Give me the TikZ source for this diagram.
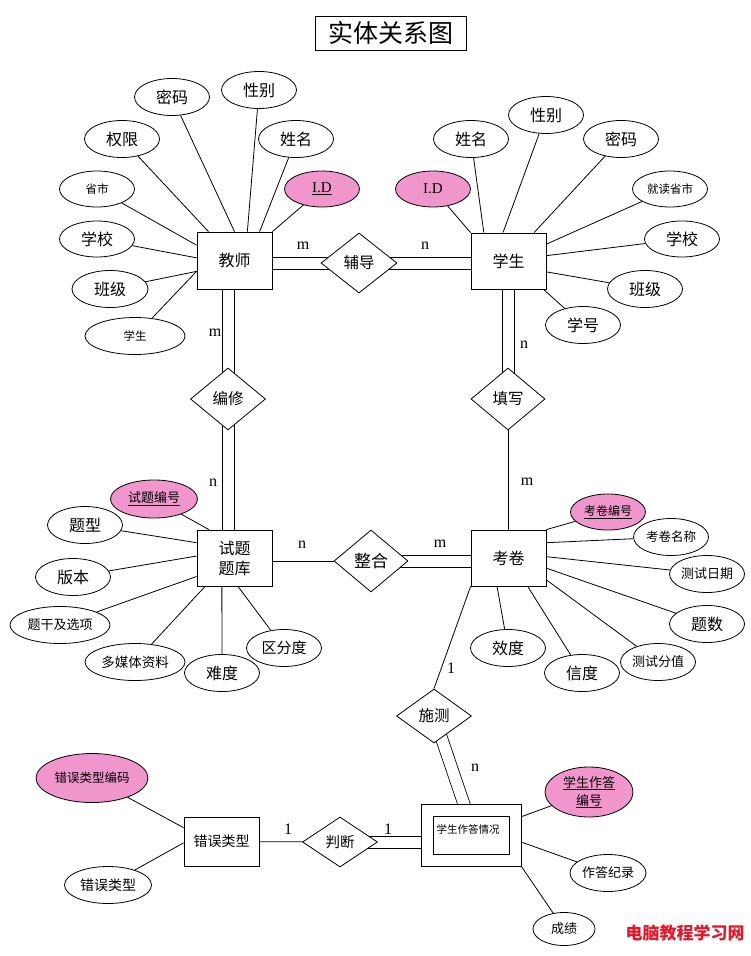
\documentclass[tikz,border=0pt]{standalone}
\usepackage{fontspec}
\setmainfont{Noto Sans CJK SC}
\newfontfamily\lat{Liberation Serif}
\usepackage{tikz}
\usetikzlibrary{shapes.geometric,backgrounds}
\definecolor{keypink}{RGB}{240,150,205}
\definecolor{markred}{RGB}{225,25,45}
\tikzset{conn/.style={line width=0.8pt}}
\tikzset{dbl/.style={conn,double,double distance=11.2pt}}
\newcommand\ersize[1]{\fontsize{#1}{#1}\selectfont}

\begin{document}
\begin{tikzpicture}[x=1pt,y=-1pt,
    entity/.style={rectangle,draw,fill=white,line width=0.8pt,inner sep=0pt,
      minimum width=75,minimum height=56,align=center,font=\fontsize{16}{20}\selectfont},
    attr/.style={ellipse,draw,fill=white,line width=0.8pt,inner sep=0pt,
      minimum width=75,minimum height=37,align=center,font=\ersize{16}},
    keyattr/.style={attr,fill=keypink},
    rel/.style={diamond,draw,fill=white,line width=0.8pt,inner sep=0pt,
      minimum width=75,minimum height=62,font=\ersize{15.5}},
    card/.style={inner sep=0pt,font=\lat\ersize{16}}]
  \useasboundingbox (0,0) rectangle (750,956);

  % title
  \node[entity,minimum width=151,minimum height=34,font=\ersize{25}] (title) at (390.5,33) {实体关系图};

  % entities
  \node[entity,minimum height=57] (teacher) at (234.5,260.5) {教师};
  \node[entity] (student) at (508.5,261) {学生};
  \node[entity] (tiku) at (234.5,558) {试题\\题库};
  \node[entity] (kaojuan) at (508.5,558) {考卷};
  \node[entity,minimum height=49,font=\ersize{14}] (cuowu) at (221.5,841.5) {错误类型};
  \node[entity,minimum width=100,minimum height=62] (answer) at (471,835) {};
  \node[draw,line width=0.8pt,minimum width=76,minimum height=38,inner sep=0pt] (answerin) at (471,835) {};
  \node[inner sep=0pt,font=\ersize{10.5}] (answertxt) at (468,829) {学生作答情况};

  % relationships
  \node[rel,minimum width=76,minimum height=60] (fudao) at (359,263) {辅导};
  \node[rel] (bianxiu) at (228,399) {编修};
  \node[rel,minimum width=74] (tianxie) at (508,399) {填写};
  \node[rel,minimum width=74,font=\ersize{17}] (zhenghe) at (371,561) {整合};
  \node[rel,minimum height=54] (shice) at (434,716) {施测};
  \node[rel,minimum height=50,font=\ersize{14.5}] (panduan) at (340,842) {判断};

  % teacher attributes
  \node[attr] (t_mima) at (172,97) {密码};
  \node[attr] (t_xingbie) at (259,90) {性别};
  \node[attr] (t_xingming) at (296,139) {姓名};
  \node[keyattr,minimum height=36,font=\lat\ersize{15}] (t_id) at (322,189) {\underline{I.D}};
  \node[attr] (t_quanxian) at (122,139) {权限};
  \node[attr,minimum height=36,font=\ersize{11.5}] (t_shengshi) at (97,189) {省市};
  \node[attr,minimum height=36] (t_xuexiao) at (97,239) {学校};
  \node[attr,minimum width=76] (t_banji) at (110,289) {班级};
  \node[attr,minimum width=100,font=\ersize{11.5}] (t_xuesheng) at (135,336) {学生};

  % student attributes
  \node[keyattr,minimum height=36,font=\lat\ersize{15}] (s_id) at (433,189) {I.D};
  \node[attr] (s_xingming) at (471,139) {姓名};
  \node[attr] (s_xingbie) at (546,115) {性别};
  \node[attr] (s_mima) at (621,139) {密码};
  \node[attr,minimum height=36,font=\ersize{11.5}] (s_jiudu) at (670,189) {就读省市};
  \node[attr,minimum height=36] (s_xuexiao) at (682,239) {学校};
  \node[attr] (s_banji) at (645,289) {班级};
  \node[attr] (s_xuehao) at (583,325) {学号};

  % question bank attributes
  \node[keyattr,minimum width=87,minimum height=38,font=\ersize{13}] (k_bianhao) at (154,499) {\underline{试题编号}};
  \node[attr] (k_tixing) at (85,525) {题型};
  \node[attr] (k_banben) at (73,577) {版本};
  \node[attr,minimum width=100,font=\ersize{13}] (k_tigan) at (60,625) {题干及选项};
  \node[attr,minimum width=100,font=\ersize{13.5}] (k_duomeiti) at (135,662) {多媒体资料};
  \node[attr] (k_nandu) at (222,673) {难度};
  \node[attr,font=\ersize{15}] (k_qufen) at (284,648) {区分度};

  % paper attributes
  \node[keyattr,minimum height=36,font=\ersize{12}] (j_bianhao) at (608,512) {\underline{考卷编号}};
  \node[attr,font=\ersize{12.5}] (j_mingcheng) at (671,537) {考卷名称};
  \node[attr,font=\ersize{13}] (j_riqi) at (707,574) {测试日期};
  \node[attr] (j_tishu) at (707,624) {题数};
  \node[attr,font=\ersize{13}] (j_fenzhi) at (658,662) {测试分值};
  \node[attr] (j_xindu) at (582,673) {信度};
  \node[attr] (j_xiaodu) at (508,648) {效度};

  % answer attributes
  \node[keyattr,minimum width=88,minimum height=50,font=\fontsize{13}{18}\selectfont] (a_bianhao) at (589,792) {\underline{学生作答}\\\underline{编号}};
  \node[attr,minimum width=76,font=\ersize{13}] (a_jilu) at (608,873) {作答纪录};
  \node[attr,minimum width=62,minimum height=33,font=\ersize{13}] (a_chengji) at (564,929) {成绩};

  % error type attributes
  \node[keyattr,minimum width=112,minimum height=49,font=\ersize{12.5}] (e_bianma) at (92,778) {错误类型编码};
  \node[attr,minimum width=87,font=\ersize{14}] (e_leixing) at (108,885) {错误类型};

  % cardinalities
  \node[card] (c_tf) at (303,246) {m};
  \node[card] (c_fs) at (425,246) {n};
  \node[card] (c_tb) at (215,333) {m};
  \node[card] (c_bk) at (213,483) {n};
  \node[card] (c_st) at (524,345) {n};
  \node[card] (c_tj) at (527,482) {m};
  \node[card] (c_kz) at (302,545) {n};
  \node[card] (c_zj) at (440,544) {m};
  \node[card] (c_js) at (451,668) {1};
  \node[card] (c_sa) at (475,768) {n};
  \node[card] (c_cp) at (288,829) {1};
  \node[card] (c_pa) at (388,829) {1};

  \node[inner sep=0pt,text=markred,font=\bfseries\ersize{17}] (mark) at (685,933) {电脑教程学习网};

  \begin{pgfonlayer}{background}
    \draw[conn]
    (t_mima) edge (teacher.north) (t_xingbie) edge (teacher.66)
    (t_xingming) edge (teacher.49) (t_id) edge (teacher.north east)
    (t_quanxian) edge (teacher.132) (t_shengshi) edge (teacher.158)
    (t_xuexiao) edge (teacher.176) (t_banji) edge (teacher.196)
    (t_xuesheng) edge (teacher.196);
    \draw[conn]
    (s_id) edge (student.north west) (s_xingming) edge (student.131)
    (s_xingbie) edge (student.101) (s_mima) edge (student.48)
    (s_jiudu) edge (student.24) (s_xuexiao) edge (student.8)
    (s_banji) edge (student.344) (s_xuehao) edge (student.321);
    \draw[conn]
    (k_bianhao) edge (tiku.132) (k_tixing) edge (tiku.158)
    (k_banben) edge (tiku.177) (k_tigan) edge (tiku.206)
    (k_duomeiti) edge (tiku.224) (k_nandu) edge (tiku.246)
    (k_qufen) edge (tiku.277);
    \draw[conn]
    (j_bianhao) edge (kaojuan.north east) (j_mingcheng) edge (kaojuan.22)
    (j_riqi) edge (kaojuan.2) (j_tishu) edge (kaojuan.345)
    (j_fenzhi) edge (kaojuan.330) (j_xindu) edge (kaojuan.304)
    (j_xiaodu) edge (kaojuan.248);
    \draw[conn]
    (a_bianhao) edge (answer.20) (a_jilu) edge (answer.352)
    (a_chengji) edge (answer.south east)
    (e_bianma) edge (cuowu.160) (e_leixing) edge (cuowu.182);
    % relationships
    \draw[conn]
    (tianxie) edge (tianxie |- kaojuan.north)
    (zhenghe) edge (zhenghe -| tiku.east)
    (kaojuan.south west) edge (shice.north)
    (cuowu) edge (panduan);
    % double (total) links
    \foreach \d in {-6,6} {
      \draw[conn,transform canvas={yshift=\d pt},shorten <=-9pt] (fudao) -- (fudao -| teacher.east);
      \draw[conn,transform canvas={yshift=\d pt},shorten <=-9pt] (fudao) -- (fudao -| student.west);
      \draw[conn,transform canvas={xshift=\d pt},shorten <=-7pt] (bianxiu) -- (bianxiu |- teacher.south);
      \draw[conn,transform canvas={xshift=\d pt},shorten <=-7pt] (bianxiu) -- (bianxiu |- tiku.north);
      \draw[conn,transform canvas={xshift=\d pt},shorten <=-7pt] (tianxie) -- (tianxie |- student.south);
      \draw[conn,transform canvas={yshift=\d pt},shorten <=-9pt] (zhenghe) -- (zhenghe -| kaojuan.west);
      \draw[conn,transform canvas={yshift=\d pt},shorten <=-11pt] (panduan) -- (panduan -| answer.west);
    }
    \draw[dbl,shorten <=-9pt,shorten >=-4pt] (shice) -- (answer.103);
  \end{pgfonlayer}
\end{tikzpicture}
\end{document}
